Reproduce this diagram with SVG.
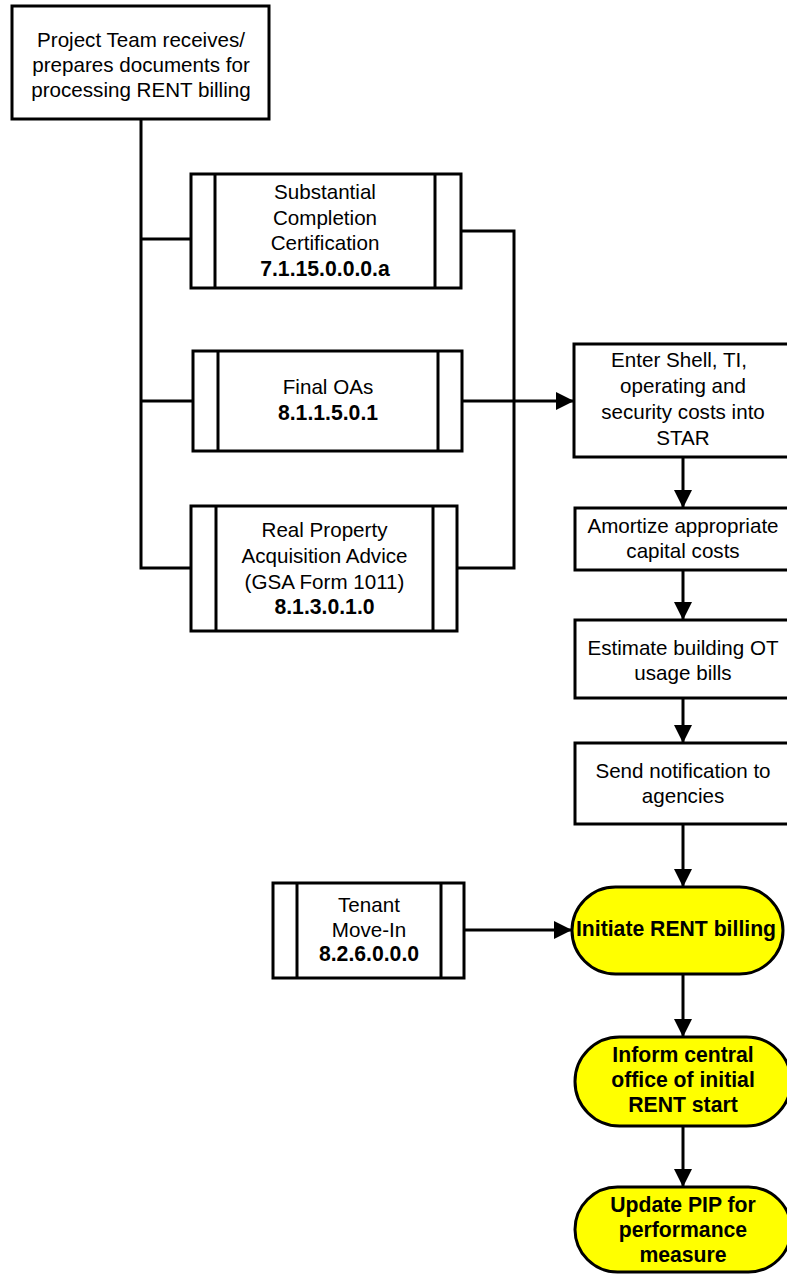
<svg xmlns="http://www.w3.org/2000/svg" width="787" height="1274" viewBox="0 0 787 1274">
<defs>
<style>
.box{fill:#fff;stroke:#000;stroke-width:3}
.term{fill:#ffff00;stroke:#000;stroke-width:3}
.t{font-family:"Liberation Sans",Arial,sans-serif;font-size:20.6px;fill:#000;text-anchor:middle}
.b{font-weight:bold;font-size:21.2px}
.c{fill:none;stroke:#000;stroke-width:3}
</style>
<marker id="ah" viewBox="0 0 10 10" refX="10" refY="5" markerWidth="18" markerHeight="18" markerUnits="userSpaceOnUse" orient="auto">
<path d="M0,0 L10,5 L0,10 z" fill="#000"/>
</marker>
</defs>
<rect width="787" height="1274" fill="#fff"/>
<g id="connectors">
<path class="c" d="M141,119 V568 H191"/>
<path class="c" d="M141,239 H191"/>
<path class="c" d="M141,401 H193"/>
<path class="c" d="M461,231 H514 V568 H457"/>
<path class="c" d="M462,401 H574" marker-end="url(#ah)"/>
<path class="c" d="M683,457 V508" marker-end="url(#ah)"/>
<path class="c" d="M683,570 V620" marker-end="url(#ah)"/>
<path class="c" d="M683,698 V743" marker-end="url(#ah)"/>
<path class="c" d="M683,824 V887" marker-end="url(#ah)"/>
<path class="c" d="M683,974 V1037" marker-end="url(#ah)"/>
<path class="c" d="M683,1126 V1187" marker-end="url(#ah)"/>
<path class="c" d="M464,930 H572" marker-end="url(#ah)"/>
</g>
<g id="n-start">
<rect class="box" x="12" y="6" width="257" height="113"/>
<text class="t" x="141" y="47">Project Team receives/</text>
<text class="t" x="141" y="72">prepares documents for</text>
<text class="t" x="141" y="97">processing RENT billing</text>
</g>
<g id="n-substantial">
<rect class="box" x="191" y="174" width="270" height="114"/>
<line class="c" x1="215" y1="174" x2="215" y2="288"/>
<line class="c" x1="435" y1="174" x2="435" y2="288"/>
<text class="t" x="325" y="199">Substantial</text>
<text class="t" x="325" y="224.5">Completion</text>
<text class="t" x="325" y="250">Certification</text>
<text class="t b" x="325" y="275.5">7.1.15.0.0.0.a</text>
</g>
<g id="n-finaloas">
<rect class="box" x="193" y="351" width="269" height="100"/>
<line class="c" x1="218" y1="351" x2="218" y2="451"/>
<line class="c" x1="438" y1="351" x2="438" y2="451"/>
<text class="t" x="328" y="394">Final OAs</text>
<text class="t b" x="328" y="420">8.1.1.5.0.1</text>
</g>
<g id="n-realprop">
<rect class="box" x="191" y="506" width="266" height="125"/>
<line class="c" x1="216" y1="506" x2="216" y2="631"/>
<line class="c" x1="433" y1="506" x2="433" y2="631"/>
<text class="t" x="324.5" y="537">Real Property</text>
<text class="t" x="324.5" y="563">Acquisition Advice</text>
<text class="t" x="324.5" y="589">(GSA Form 1011)</text>
<text class="t b" x="324.5" y="614">8.1.3.0.1.0</text>
</g>
<g id="n-enter">
<rect class="box" x="574" y="344" width="220" height="113"/>
<text class="t" x="679" y="367">Enter Shell, TI,</text>
<text class="t" x="683" y="393">operating and</text>
<text class="t" x="683" y="419">security costs into</text>
<text class="t" x="683" y="445">STAR</text>
</g>
<g id="n-amortize">
<rect class="box" x="575" y="508" width="220" height="62"/>
<text class="t" x="683" y="533">Amortize appropriate</text>
<text class="t" x="683" y="558">capital costs</text>
</g>
<g id="n-estimate">
<rect class="box" x="575" y="620" width="220" height="78"/>
<text class="t" x="683" y="655">Estimate building OT</text>
<text class="t" x="683" y="680">usage bills</text>
</g>
<g id="n-send">
<rect class="box" x="575" y="743" width="220" height="81"/>
<text class="t" x="683" y="778">Send notification to</text>
<text class="t" x="683" y="803">agencies</text>
</g>
<g id="n-tenant">
<rect class="box" x="273" y="883" width="191" height="95"/>
<line class="c" x1="297" y1="883" x2="297" y2="978"/>
<line class="c" x1="441" y1="883" x2="441" y2="978"/>
<text class="t" x="369" y="912">Tenant</text>
<text class="t" x="369" y="937">Move-In</text>
<text class="t b" x="369" y="961">8.2.6.0.0.0</text>
</g>
<g id="n-initiate">
<rect class="term" x="572" y="887" width="211" height="87" rx="43.5" ry="43.5"/>
<text class="t b" x="676" y="936">Initiate RENT billing</text>
</g>
<g id="n-inform">
<rect class="term" x="575" y="1037" width="216" height="89" rx="44.5" ry="44.5"/>
<text class="t b" x="683" y="1062">Inform central</text>
<text class="t b" x="683" y="1087">office of initial</text>
<text class="t b" x="683" y="1112">RENT start</text>
</g>
<g id="n-update">
<rect class="term" x="575" y="1187" width="216" height="85" rx="42.5" ry="42.5"/>
<text class="t b" x="683" y="1212">Update PIP for</text>
<text class="t b" x="683" y="1237">performance</text>
<text class="t b" x="683" y="1262">measure</text>
</g>
</svg>
